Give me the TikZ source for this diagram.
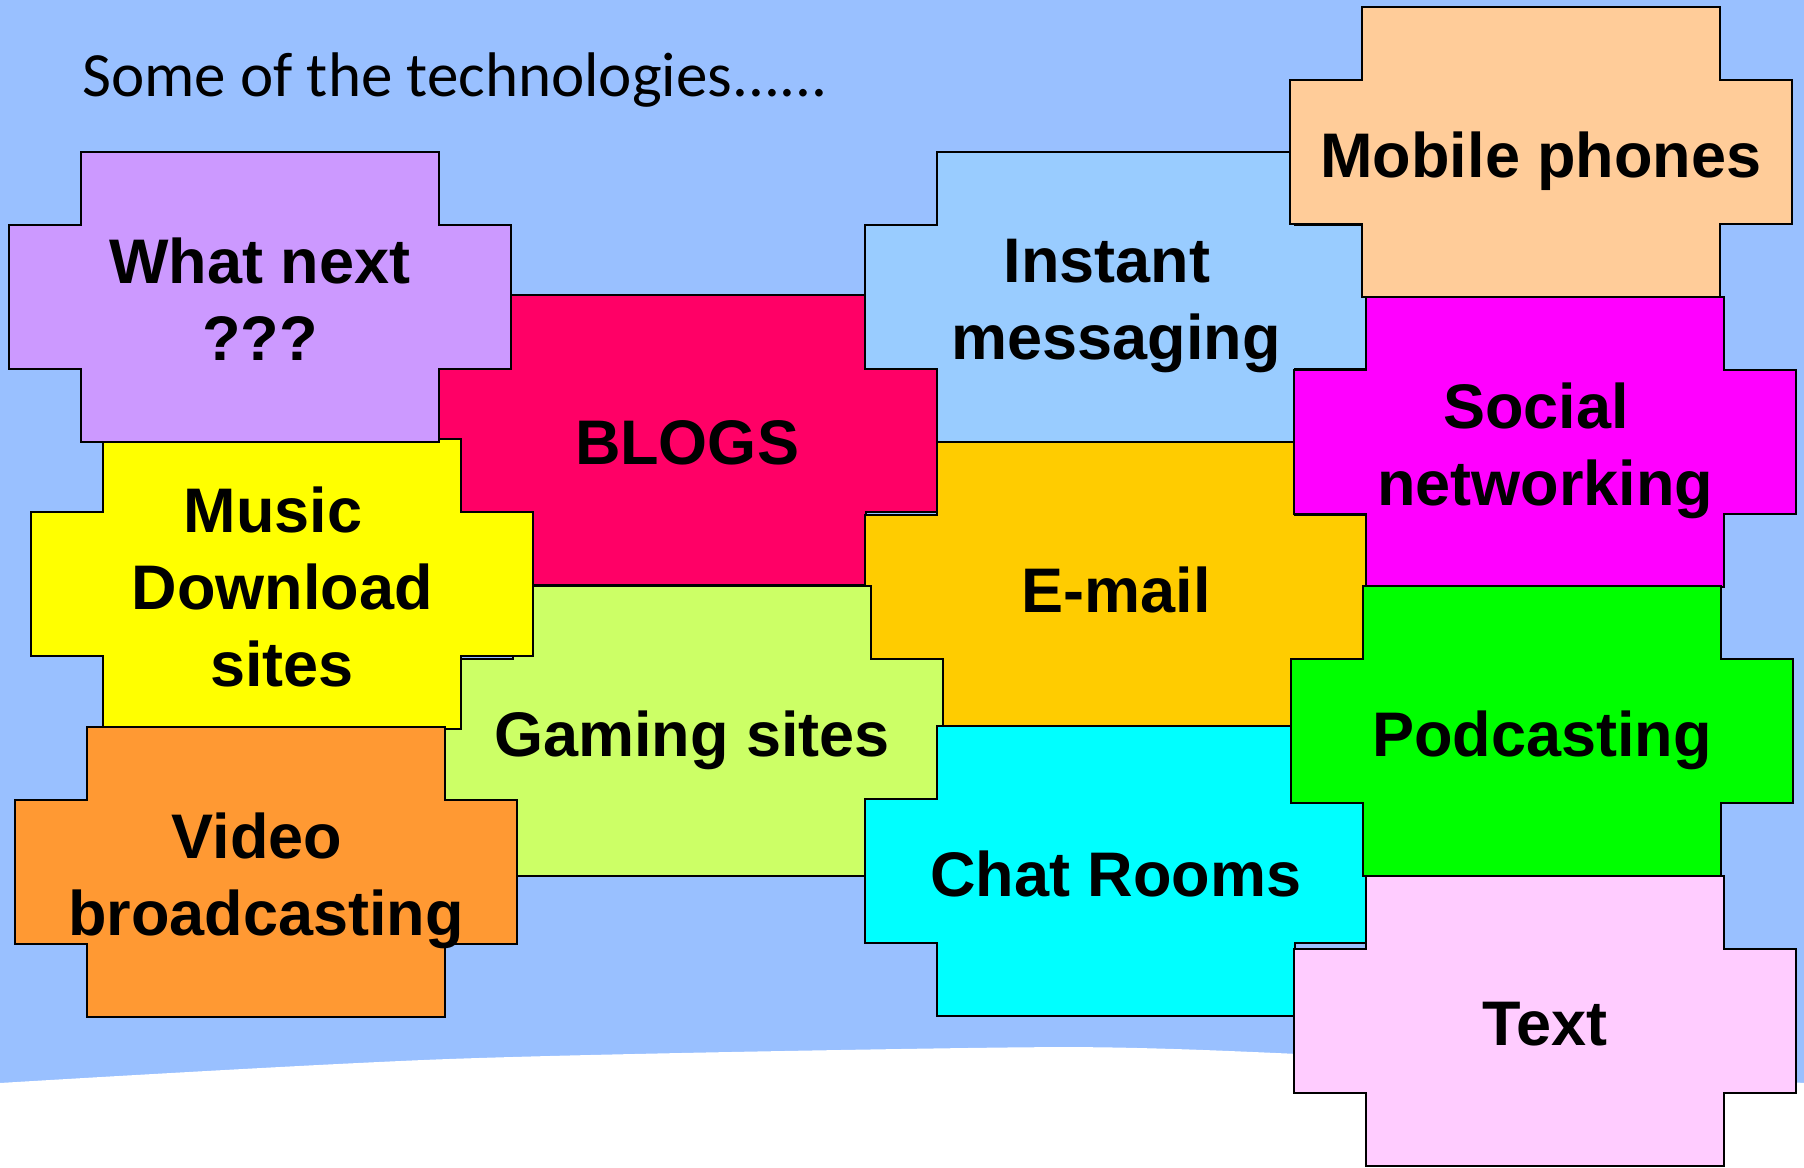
\documentclass[tikz,border=0pt]{standalone}
\usepackage{fontspec}
\setmainfont{Liberation Sans}
\newfontfamily\titlefont{Carlito}
\definecolor{slide}{HTML}{99C0FF}
\definecolor{whatcol}{HTML}{CC99FF}
\definecolor{blogcol}{HTML}{FF0066}
\definecolor{musiccol}{HTML}{FFFF00}
\definecolor{gamecol}{HTML}{CCFF66}
\definecolor{videocol}{HTML}{FF9933}
\definecolor{imcol}{HTML}{99CCFF}
\definecolor{mailcol}{HTML}{FFCC00}
\definecolor{chatcol}{HTML}{00FFFF}
\definecolor{mobilecol}{HTML}{FFCC99}
\definecolor{socialcol}{HTML}{FF00FF}
\definecolor{podcol}{HTML}{00FF00}
\definecolor{textcol}{HTML}{FFCCFF}

\begin{document}
\begin{tikzpicture}[x=1pt,y=-1pt,
  tile/.style={draw=black,line width=2pt},
  tiletext/.style={font=\fontsize{63}{77}\selectfont\bfseries,align=center,inner sep=0pt,yshift=-9pt},
  headline/.style={font=\titlefont\fontsize{63}{77}\selectfont,anchor=base west,inner sep=0pt}]
\useasboundingbox (0,0) rectangle (1804,1167);
\fill[slide] (0,0) rectangle (1804,1167);
\fill[white] plot[smooth,tension=0.5] coordinates {(0,1083) (449,1059) (967,1048) (1174,1049) (1500,1064) (1804,1083)}
  -- (1804,1167) -- (0,1167) -- cycle;
\node[headline] (title) at (82,96) {Some of the technologies......};
\foreach \l/\t/\c/\n/\txt in {
  436/295/blogcol/blogs/{BLOGS},
  865/442/mailcol/email/{E-mail},
  441/586/gamecol/gaming/{Gaming sites},
  865/152/imcol/im/{Instant\kern.28em\\messaging},
  865/726/chatcol/chat/{Chat Rooms},
  31/439/musiccol/music/{Music\kern.28em\\Download\\sites},
  9/152/whatcol/whatnext/{What next\\???},
  15/727/videocol/video/{Video\kern.28em\\broadcasting},
  1290/7/mobilecol/mobile/{Mobile phones},
  1294/297/socialcol/social/{Social\kern.28em\\networking},
  1291/586/podcol/podcast/{Podcasting},
  1294/876/textcol/texting/{Text}}{
  \draw[tile,fill=\c] (\l+72,\t) -- (\l+430,\t) -- (\l+430,\t+73) -- (\l+502,\t+73)
    -- (\l+502,\t+217) -- (\l+430,\t+217) -- (\l+430,\t+290) -- (\l+72,\t+290)
    -- (\l+72,\t+217) -- (\l,\t+217) -- (\l,\t+73) -- (\l+72,\t+73) -- cycle;
  \node[tiletext] (\n) at (\l+251,\t+145) {\txt\vphantom{p}};
}
\end{tikzpicture}
\end{document}
